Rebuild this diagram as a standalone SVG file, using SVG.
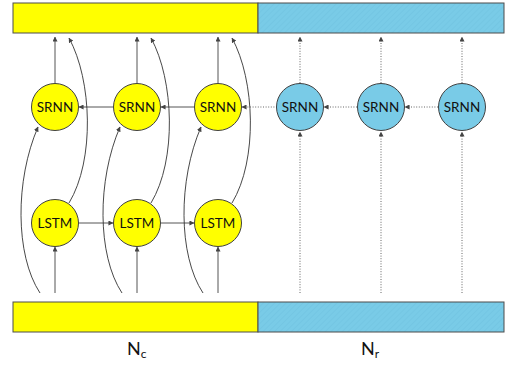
<svg xmlns="http://www.w3.org/2000/svg" width="510" height="366" viewBox="0 0 510 366">
  <style>
    .bar { stroke: #4d4d4d; stroke-width: 1; }
    .yel { fill: #ffff00; }
    .blu { fill: url(#hatch); }
    .cy { fill: #ffff00; stroke: #404040; stroke-width: 1; }
    .cb { fill: #79cbe7; stroke: #404040; stroke-width: 1; }
    .lbl { font-family: Lato, "Liberation Sans", Arial, sans-serif; font-size: 13.5px; fill: #111; text-anchor: middle; }
    .cap { font-family: Lato, "Liberation Sans", Arial, sans-serif; font-size: 18px; fill: #111; }
    .sub { font-size: 12px; }
    .solid { fill: none; stroke: #555; stroke-width: 1; marker-end: url(#ah); }
    .curve { fill: none; stroke: #333; stroke-width: 0.9; marker-end: url(#ah); }
    .dot { fill: none; stroke: #666; stroke-width: 1; stroke-dasharray: 1 1.6; marker-end: url(#ah); }
  </style>
  <defs>
    <pattern id="hatch" width="4" height="4" patternUnits="userSpaceOnUse" patternTransform="rotate(45)">
      <rect width="4" height="4" fill="#79cbe7"/>
      <line x1="0" y1="0" x2="0" y2="4" stroke="#6fc2df" stroke-width="1"/>
    </pattern>
    <marker id="ah" viewBox="0 0 6 6" refX="5.5" refY="3" markerWidth="5" markerHeight="5" markerUnits="userSpaceOnUse" orient="auto">
      <path d="M0,0 L6,3 L0,6 z" fill="#444"/>
    </marker>
  </defs>

  <!-- output layer -->
  <g id="top-bar">
    <rect class="bar yel" x="13" y="3" width="245" height="30"/>
    <rect class="bar blu" x="258" y="3" width="246" height="30"/>
  </g>

  <!-- input layer -->
  <g id="bottom-bar">
    <rect class="bar yel" x="13" y="302" width="245" height="30"/>
    <rect class="bar blu" x="258" y="302" width="246" height="30"/>
  </g>

  <g id="connectors">
    <!-- LSTM inputs -->
    <line class="solid" x1="55" y1="293" x2="55" y2="247"/>
    <line class="solid" x1="137" y1="293" x2="137" y2="247"/>
    <line class="solid" x1="218" y1="293" x2="218" y2="247"/>
    <!-- LSTM chain -->
    <line class="solid" x1="79" y1="223" x2="113" y2="223"/>
    <line class="solid" x1="161" y1="223" x2="194" y2="223"/>
    <!-- SRNN outputs -->
    <line class="solid" x1="55" y1="83" x2="55" y2="37"/>
    <line class="solid" x1="137" y1="83" x2="137" y2="37"/>
    <line class="solid" x1="218" y1="83" x2="218" y2="37"/>
    <!-- SRNN chain (right to left) -->
    <line class="solid" x1="113" y1="107" x2="79" y2="107"/>
    <line class="solid" x1="194" y1="107" x2="161" y2="107"/>
    <!-- skip connections: input to SRNN -->
    <path class="curve" d="M40,293 C15,255 15,180 38,127"/>
    <path class="curve" d="M122,293 C97,255 97,180 120,127"/>
    <path class="curve" d="M203,293 C178,255 178,180 201,127"/>
    <!-- skip connections: LSTM to output -->
    <path class="curve" d="M69,203 C95,160 92,80 69,38"/>
    <path class="curve" d="M151,203 C177,160 174,80 151,38"/>
    <path class="curve" d="M232,203 C258,160 255,80 232,38"/>
    <!-- dotted region -->
    <line class="dot" x1="300" y1="293" x2="300" y2="132"/>
    <line class="dot" x1="381" y1="293" x2="381" y2="132"/>
    <line class="dot" x1="462" y1="293" x2="462" y2="132"/>
    <line class="dot" x1="300" y1="83" x2="300" y2="37"/>
    <line class="dot" x1="381" y1="83" x2="381" y2="37"/>
    <line class="dot" x1="462" y1="83" x2="462" y2="37"/>
    <line class="dot" x1="277" y1="107" x2="242" y2="107"/>
    <line class="dot" x1="357" y1="107" x2="324" y2="107"/>
    <line class="dot" x1="438" y1="107" x2="405" y2="107"/>
  </g>

  <g id="lstm1"><circle class="cy" cx="55" cy="223" r="23.5"/><text class="lbl" x="55" y="228">LSTM</text></g>
  <g id="lstm2"><circle class="cy" cx="137" cy="223" r="23.5"/><text class="lbl" x="137" y="228">LSTM</text></g>
  <g id="lstm3"><circle class="cy" cx="218" cy="223" r="23.5"/><text class="lbl" x="218" y="228">LSTM</text></g>

  <g id="srnn1"><circle class="cy" cx="55" cy="107" r="23.5"/><text class="lbl" x="55" y="112">SRNN</text></g>
  <g id="srnn2"><circle class="cy" cx="137" cy="107" r="23.5"/><text class="lbl" x="137" y="112">SRNN</text></g>
  <g id="srnn3"><circle class="cy" cx="218" cy="107" r="23.5"/><text class="lbl" x="218" y="112">SRNN</text></g>
  <g id="srnn4"><circle class="cb" cx="300" cy="107" r="23.5"/><text class="lbl" x="300" y="112">SRNN</text></g>
  <g id="srnn5"><circle class="cb" cx="381" cy="107" r="23.5"/><text class="lbl" x="381" y="112">SRNN</text></g>
  <g id="srnn6"><circle class="cb" cx="462" cy="107" r="23.5"/><text class="lbl" x="462" y="112">SRNN</text></g>

  <g id="label-nc"><text class="cap" x="127" y="355">N<tspan class="sub" dy="3">c</tspan></text></g>
  <g id="label-nr"><text class="cap" x="361" y="355">N<tspan class="sub" dy="3">r</tspan></text></g>
</svg>
